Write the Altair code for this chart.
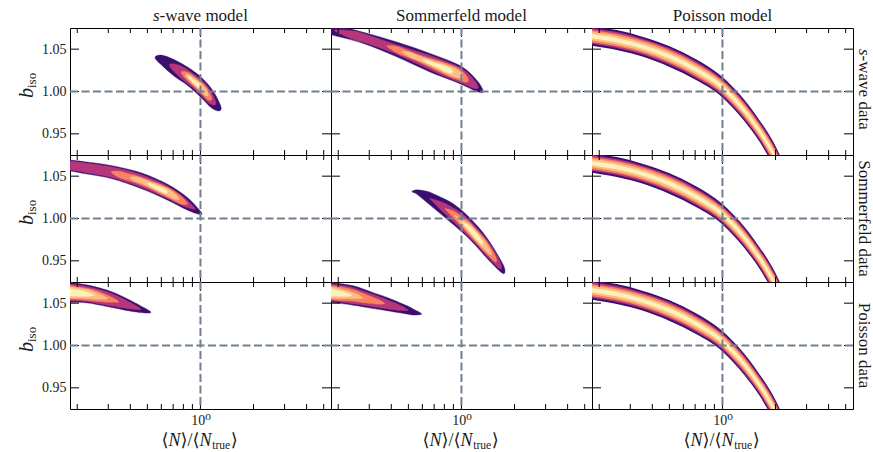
import altair as alt
import numpy as np
import pandas as pd

# ---------------- axes / reference values ----------------
X_DOMAIN = [0.182, 5.5]
Y_DOMAIN = [0.925, 1.075]
X_TICKS_MAJOR = [1.0]
X_TICKS_MINOR = [0.2, 0.3, 0.4, 0.5, 0.6, 0.7, 0.8, 0.9, 2.0, 3.0, 4.0, 5.0]
Y_TICKS = [0.95, 1.00, 1.05]
TRUE_X = [1.0]
TRUE_Y = [1.0]

LEVEL_COLORS = ["#3b0f70", "#b5367a", "#f7845e", "#fdbf88", "#fcf1b9"]  # outer -> inner

# ---------------- texts ----------------
COL_PREFIX = ["s", "", ""]
COL_TITLES = ["-wave model", "Sommerfeld model", "Poisson model"]
ROW_PREFIX = ["s", "", ""]
ROW_TITLES = ["-wave data", "Sommerfeld data", "Poisson data"]
Y_TITLE = ["b", "iso"]
X_TITLE = ["\u27e8", "N", "\u27e9/\u27e8", "N", "true", "\u27e9"]
X_TICK_LABEL = "10\u2070"

# ---------------- contours ----------------
# Each blob: ridge line (x, y), outer vertical half-thickness along it,
# and for every level (outer -> inner) its x-extent and relative thickness.

# s-wave model / s-wave data
A_SX = [0.552, 0.597, 0.708, 0.845, 1.007, 1.148, 1.259, 1.312]
A_SY = [1.040, 1.0375, 1.028, 1.018, 1.005, 0.9925, 0.9835, 0.980]
A_SH = [0.0, 0.0055, 0.0098, 0.0108, 0.012, 0.0115, 0.0065, 0.0]
A_LX0 = [0.552, 0.665, 0.776, 0.822, 0.845]
A_LX1 = [1.312, 1.225, 1.161, 1.109, 1.007]
A_LS = [1.0, 0.78, 0.58, 0.40, 0.22]

# Sommerfeld model / s-wave data
B_SX = [0.100, 0.141, 0.1797, 0.2776, 0.4292, 0.663, 0.9806, 1.219, 1.329]
B_SY = [1.079, 1.079, 1.0735, 1.0634, 1.0497, 1.034, 1.0199, 1.0068, 1.000]
B_SH = [0.0, 0.0062, 0.0063, 0.0066, 0.0088, 0.011, 0.0107, 0.0068, 0.0]
B_LX0 = [0.100, 0.190, 0.3767, 0.460, 0.600]
B_LX1 = [1.329, 1.245, 1.096, 1.023, 0.895]
B_LS = [1.0, 0.82, 0.64, 0.47, 0.30]

# s-wave model / Sommerfeld data
D_SX = [0.112, 0.141, 0.1813, 0.2195, 0.3109, 0.4598, 0.6518, 0.8459, 0.9806, 1.0198]
D_SY = [1.0655, 1.065, 1.0626, 1.0601, 1.0549, 1.0447, 1.031, 1.0172, 1.0079, 1.0059]
D_SH = [0.0, 0.006, 0.0064, 0.007, 0.0077, 0.0093, 0.0094, 0.0074, 0.0028, 0.0]
D_LX0 = [0.112, 0.1175, 0.3112, 0.398, 0.5023]
D_LX1 = [1.0198, 0.933, 0.845, 0.759, 0.652]
D_LS = [1.0, 0.80, 0.62, 0.45, 0.28]

# Sommerfeld model / Sommerfeld data
E_SX = [0.524, 0.5572, 0.6349, 0.6921, 0.8986, 1.117, 1.390, 1.690, 1.766]
E_SY = [1.0317, 1.0314, 1.0257, 1.021, 1.0051, 0.9878, 0.9655, 0.9425, 0.938]
E_SH = [0.0, 0.0025, 0.0065, 0.0082, 0.0123, 0.0127, 0.0121, 0.0065, 0.0]
E_LX0 = [0.524, 0.6622, 0.806, 0.912, 1.0198]
E_LX1 = [1.766, 1.690, 1.583, 1.479, 1.324]
E_LS = [1.0, 0.80, 0.62, 0.46, 0.30]

# s-wave model / Poisson data
F0_SX = [0.0794, 0.141, 0.182, 0.2293, 0.3109, 0.3866, 0.4801, 0.524]
F0_SY = [1.065, 1.065, 1.0627, 1.0608, 1.0545, 1.048, 1.0415, 1.0392]
F0_SH = [0.0, 0.013, 0.0117, 0.0106, 0.0094, 0.0069, 0.003, 0.0]
F0_LX0 = [0.0794, 0.0891, 0.100, 0.1122, 0.1259]
F0_LX1 = [0.524, 0.4603, 0.3451, 0.2979, 0.2489]
F0_LS = [1.0, 0.85, 0.72, 0.58, 0.40]

# Sommerfeld model / Poisson data
F1_SX = [0.0794, 0.141, 0.182, 0.2435, 0.3162, 0.3767, 0.4891, 0.533, 0.5948]
F1_SY = [1.065, 1.065, 1.0627, 1.0591, 1.053, 1.049, 1.0422, 1.0395, 1.0372]
F1_SH = [0.0, 0.013, 0.0117, 0.0115, 0.0094, 0.0079, 0.0049, 0.0035, 0.0]
F1_LX0 = [0.0794, 0.0891, 0.100, 0.1122, 0.1259]
F1_LX1 = [0.5948, 0.4977, 0.3681, 0.2767, 0.2388]
F1_LS = [1.0, 0.85, 0.72, 0.58, 0.40]

# Poisson model band (same for all three data sets): outer upper / lower edges
C_X = [0.112, 0.1816, 0.2512, 0.3548, 0.5012, 0.7079, 1.0, 1.122, 1.259, 1.413, 1.585, 1.778, 1.995, 2.512, 3.162]
C_UP = [1.084, 1.077, 1.0725, 1.0645, 1.0535, 1.038, 1.017, 1.0072, 0.9962, 0.9835, 0.969, 0.954, 0.936, 0.885, 0.815]
C_LO = [1.062, 1.054, 1.049, 1.041, 1.029, 1.0135, 0.993, 0.9825, 0.971, 0.958, 0.944, 0.927, 0.908, 0.855, 0.785]
C_LS = [1.0, 0.80, 0.63, 0.44, 0.22]

# ---------------- styling ----------------
W, H = 261, 127
FONT = "Liberation Serif, DejaVu Serif"
TXT = "#1a1a1a"
REF_COLOR = "#708090"

XS = alt.Scale(type="log", domain=X_DOMAIN, nice=False)
YS = alt.Scale(domain=Y_DOMAIN, nice=False, zero=False)


def xenc(field, show=False):
    if show:
        ax = alt.Axis(values=X_TICKS_MAJOR, labelExpr="'%s'" % X_TICK_LABEL, ticks=False, domain=False,
                      grid=False, labelFont=FONT, labelFontSize=14, labelColor=TXT, labelPadding=4,
                      title=None)
        return alt.X(field, type="quantitative", scale=XS, axis=ax)
    return alt.X(field, type="quantitative", scale=XS, axis=None)


def yenc(field, show=False):
    if show:
        ax = alt.Axis(values=Y_TICKS, format=".2f", ticks=False, domain=False, grid=False,
                      labelFont=FONT, labelFontSize=14, labelColor=TXT, labelPadding=4, title=None)
        return alt.Y(field, type="quantitative", scale=YS, axis=ax)
    return alt.Y(field, type="quantitative", scale=YS, axis=None)


def blob_layers(SX, SY, SH, LX0, LX1, LS, sx, sy):
    lx = np.log10(np.array(SX))
    ys = np.array(SY)
    hs = np.array(SH)
    a0, b0 = lx[0], lx[-1]
    out = []
    for k, s in enumerate(LS):
        a, b = np.log10(LX0[k]), np.log10(LX1[k])
        lxk = a + (lx - a0) * (b - a) / (b0 - a0)
        yc = np.interp(lxk, lx, ys)
        h = s * hs
        px = np.concatenate([lxk, lxk[-2:0:-1]])
        py = np.concatenate([yc + h, (yc - h)[-2:0:-1]])
        df = pd.DataFrame({"x": 10 ** px, "y": py, "i": np.arange(len(px))})
        out.append(
            alt.Chart(df).mark_line(interpolate="cardinal-closed", fill=LEVEL_COLORS[k],
                                    stroke=LEVEL_COLORS[k], strokeWidth=0.4, clip=True)
            .encode(x=xenc("x", sx), y=yenc("y", sy), order=alt.Order("i:Q"))
        )
    return out


def band_layers(xs, up, lo, levels, sx, sy):
    up = np.array(up)
    lo = np.array(lo)
    c = (up + lo) / 2
    half = (up - lo) / 2
    out = []
    for k, s in enumerate(levels):
        df = pd.DataFrame({"x": xs, "hi": c + s * half, "lo": c - s * half})
        out.append(
            alt.Chart(df).mark_area(interpolate="monotone", color=LEVEL_COLORS[k], clip=True)
            .encode(x=xenc("x", sx), y=yenc("hi", sy), y2=alt.Y2("lo"))
        )
    return out


def text_layer(text, x, y, size, angle=0, align="center", baseline="middle", italic=False):
    kw = dict(font=FONT, fontSize=size, align=align, baseline=baseline, color=TXT)
    if angle:
        kw["angle"] = angle
    if italic:
        kw["fontStyle"] = "italic"
    return alt.Chart(pd.DataFrame({"t": [text]})).mark_text(**kw).encode(
        text="t:N", x=alt.value(x), y=alt.value(y))


SHAPES = {
    (0, 0): (A_SX, A_SY, A_SH, A_LX0, A_LX1, A_LS),
    (0, 1): (B_SX, B_SY, B_SH, B_LX0, B_LX1, B_LS),
    (1, 0): (D_SX, D_SY, D_SH, D_LX0, D_LX1, D_LS),
    (1, 1): (E_SX, E_SY, E_SH, E_LX0, E_LX1, E_LS),
    (2, 0): (F0_SX, F0_SY, F0_SH, F0_LX0, F0_LX1, F0_LS),
    (2, 1): (F1_SX, F1_SY, F1_SH, F1_LX0, F1_LX1, F1_LS),
}

df_xmaj = pd.DataFrame({"v": X_TICKS_MAJOR})
df_xmin = pd.DataFrame({"v": X_TICKS_MINOR})
df_yt = pd.DataFrame({"v": Y_TICKS})
df_tx = pd.DataFrame({"v": TRUE_X})
df_ty = pd.DataFrame({"v": TRUE_Y})

# x-title piece positions (left edges, px from panel left) and styles
XT_POS = [91.6, 98.6, 110.6, 129.6, 142.3, 160.8]
XT_ITALIC = [False, True, False, True, False, False]
XT_SIZE = [18, 18, 18, 18, 11.5, 18]
XT_DY = [0, 0, 0, 0, 4.5, 0]


def panel(r, c):
    sx = (r == 2)
    sy = (c == 0)
    layers = []
    if (r, c) in SHAPES:
        layers += blob_layers(*SHAPES[(r, c)], sx, sy)
    else:
        layers += band_layers(C_X, C_UP, C_LO, C_LS, sx, sy)

    # ticks (inward, on all four sides)
    tick = dict(color="black", strokeWidth=1)
    layers.append(alt.Chart(df_xmin).mark_rule(**tick).encode(x=xenc("v", sx), y=alt.value(0), y2=alt.value(5)))
    layers.append(alt.Chart(df_xmin).mark_rule(**tick).encode(x=xenc("v", sx), y=alt.value(H - 5), y2=alt.value(H)))
    layers.append(alt.Chart(df_xmaj).mark_rule(**tick).encode(x=xenc("v", sx), y=alt.value(0), y2=alt.value(9)))
    layers.append(alt.Chart(df_xmaj).mark_rule(**tick).encode(x=xenc("v", sx), y=alt.value(H - 9), y2=alt.value(H)))
    layers.append(alt.Chart(df_yt).mark_rule(**tick).encode(y=yenc("v", sy), x=alt.value(0), x2=alt.value(9)))
    layers.append(alt.Chart(df_yt).mark_rule(**tick).encode(y=yenc("v", sy), x=alt.value(W - 9), x2=alt.value(W)))

    # dashed "true value" lines
    dash = dict(color=REF_COLOR, strokeDash=[8, 3.5], strokeWidth=2)
    layers.append(alt.Chart(df_tx).mark_rule(**dash).encode(x=xenc("v", sx)))
    layers.append(alt.Chart(df_ty).mark_rule(**dash).encode(y=yenc("v", sy)))

    # column titles
    if r == 0:
        if COL_PREFIX[c]:
            layers.append(text_layer(COL_PREFIX[c], 89.6, -12, 17, align="right", italic=True))
            layers.append(text_layer(COL_TITLES[c], 89.6, -12, 17, align="left"))
        else:
            layers.append(text_layer(COL_TITLES[c], W / 2, -12, 17))
    # row labels
    if c == 2:
        if ROW_PREFIX[r]:
            layers.append(text_layer(ROW_PREFIX[r], W + 10.5, 27.6, 17, angle=90, align="right", italic=True))
            layers.append(text_layer(ROW_TITLES[r], W + 10.5, 27.6, 17, angle=90, align="left"))
        else:
            layers.append(text_layer(ROW_TITLES[r], W + 10.5, H / 2, 17, angle=90))
    # y title
    if c == 0:
        layers.append(text_layer(Y_TITLE[0], -37, 60, 20, angle=270, align="right",
                                 baseline="alphabetic", italic=True))
        layers.append(text_layer(Y_TITLE[1], -34, 60, 13, angle=270, align="left",
                                 baseline="alphabetic"))
    # x title
    if r == 2:
        for t, xp, it, fs, dy in zip(X_TITLE, XT_POS, XT_ITALIC, XT_SIZE, XT_DY):
            layers.append(text_layer(t, xp, 159 + dy, fs, align="left", italic=it))

    return alt.layer(*layers).properties(width=W, height=H)


panels = [panel(r, c) for r in range(3) for c in range(3)]
chart = (
    alt.concat(*panels, columns=3, spacing=0, bounds="flush")
    .properties(padding={"left": 16, "top": 6, "right": 0, "bottom": 0})
    .configure_view(stroke="black", strokeWidth=1)
    .configure_concat(spacing=0)
)

chart.save("out.html", embed_options={"renderer": "svg", "actions": False})
